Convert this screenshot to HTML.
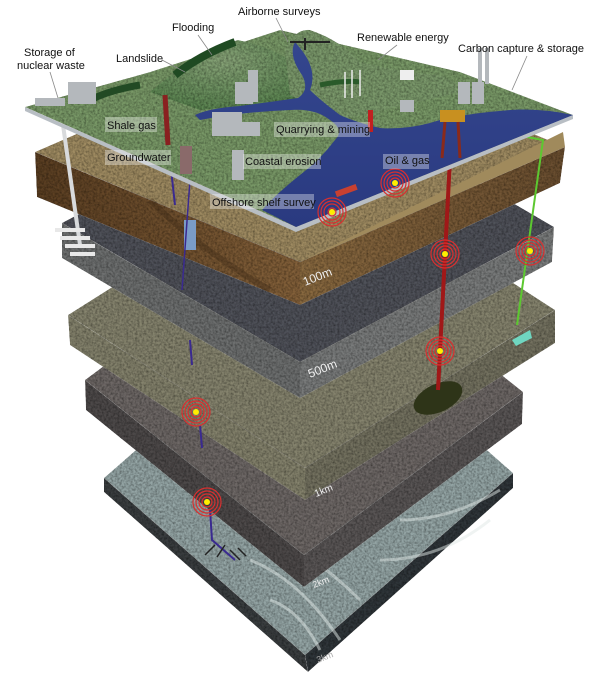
<!DOCTYPE html>
<html><head><meta charset="utf-8"><style>
html,body{margin:0;padding:0;background:#fff;}
svg{display:block;}
text{font-family:"Liberation Sans",sans-serif;}
</style></head><body>
<svg width="600" height="676" viewBox="0 0 600 676" xmlns="http://www.w3.org/2000/svg">
<defs>
<filter id="n" x="0" y="0" width="100%" height="100%" filterUnits="userSpaceOnUse">
<feTurbulence type="fractalNoise" baseFrequency="0.45" numOctaves="3" seed="3" result="t"/>
<feColorMatrix in="t" type="matrix" values="1.1 0 0 0 0.2  1.1 0 0 0 0.2  1.1 0 0 0 0.2  0 0 0 0 1" result="g"/>
<feBlend in="SourceGraphic" in2="g" mode="multiply" result="b"/>
<feComposite in="b" in2="SourceAlpha" operator="in"/>
</filter>
<linearGradient id="brL" x1="0" y1="0" x2="1" y2="0"><stop offset="0" stop-color="#5a3e22"/><stop offset="1" stop-color="#84613a"/></linearGradient>
<linearGradient id="brR" x1="0" y1="0" x2="1" y2="0"><stop offset="0" stop-color="#8a6a40"/><stop offset="1" stop-color="#6a4e30"/></linearGradient>
<linearGradient id="sea" x1="0" y1="0" x2="0" y2="1"><stop offset="0" stop-color="#34468e"/><stop offset="1" stop-color="#2a3a80"/></linearGradient>
<radialGradient id="mt" cx="0.5" cy="0.3" r="0.7"><stop offset="0" stop-color="#88a478"/><stop offset="1" stop-color="#5a8450"/></radialGradient>
</defs>

<g filter="url(#n)">
<polygon points="104,478 312,296 513,473 305,655" fill="#95a6a6"/>
<polygon points="104,478 305,655 308,672 104,492" fill="#3a3e40"/>
<polygon points="305,655 513,473 513,488 308,672" fill="#30363a"/>
</g>
<path d="M230,520 Q300,540 360,600 M250,560 Q300,580 340,640 M400,520 Q450,520 500,490 M380,560 Q440,560 490,520 M270,600 Q300,610 320,650" stroke="#e0e8e6" stroke-width="3" fill="none" opacity="0.5"/>
<g filter="url(#n)">
<polygon points="85,380 304,217 523,392 304,555" fill="#6e6866"/>
<polygon points="85,380 304,555 304,587 86,410" fill="#4e4a4a"/>
<polygon points="304,555 523,392 522,424 304,587" fill="#5a5656"/>
</g>
<g filter="url(#n)">
<polygon points="68,315 318,157 555,310 305,468" fill="#86846e"/>
<polygon points="68,315 305,468 305,500 70,345" fill="#84826c"/>
<polygon points="305,468 555,310 555,343 305,500" fill="#747260"/>
</g>
<ellipse cx="438" cy="398" rx="26" ry="14" fill="#2e3418" transform="rotate(-25 438 398)"/>
<polygon points="512,340 530,330 532,338 516,346" fill="#6fd6c0"/>
<g filter="url(#n)">
<polygon points="62,223 316,88 554,227 300,362" fill="#50525a"/>
<polygon points="62,223 300,362 300,398 62,258" fill="#6e7070"/>
<polygon points="300,362 554,227 552,262 300,398" fill="#7a7c7c"/>
</g>
<g filter="url(#n)">
<polygon points="35,152 300,37 565,147 300,262" fill="#a08c62"/>
<polygon points="35,152 300,262 300,305 37,197" fill="url(#brL)"/>
<polygon points="300,262 565,147 560,183 300,305" fill="url(#brR)"/>
</g>
<polygon points="300,262 563,132 565,147" fill="#a08a5c"/>
<path d="M150,200 Q200,250 270,290" stroke="#3e2a16" stroke-width="6" fill="none" opacity="0.4"/>

<polyline points="452,120 438,390" stroke="#a01818" stroke-width="4" fill="none"/>
<polyline points="508,103 527,137 543,140 517,325" stroke="#5cc830" stroke-width="2" fill="none"/>
<line x1="170" y1="160" x2="175" y2="205" stroke="#3a2a90" stroke-width="2"/>
<line x1="190" y1="340" x2="192" y2="365" stroke="#3a2a90" stroke-width="2"/>
<line x1="200" y1="425" x2="202" y2="448" stroke="#3a2a90" stroke-width="2"/>
<polyline points="210,510 212,540 235,560" stroke="#3a2a90" stroke-width="2" fill="none"/>
<path d="M215,545 l-10,10 M225,545 l-8,12 M230,550 l10,10 M238,548 l8,8" stroke="#222" stroke-width="1.5"/>
<line x1="63" y1="125" x2="80" y2="245" stroke="#d8dadc" stroke-width="4"/>
<g fill="#e8e8e8"><rect x="55" y="228" width="30" height="4"/><rect x="60" y="236" width="30" height="4"/><rect x="65" y="244" width="30" height="4"/><rect x="70" y="252" width="25" height="4"/></g>
<rect x="184" y="220" width="12" height="30" fill="#7a9cc8"/>
<line x1="190" y1="180" x2="182" y2="290" stroke="#3a2a90" stroke-width="1.5"/>

<polygon points="25,107 296,227 573,115 573,119 296,232 25,111" fill="#b8bec4"/>
<g filter="url(#n)">
<polygon points="25,107 150,72 280,30 460,72 573,115 296,227" fill="#7a9a68"/>
<path d="M150,92 Q200,50 238,40 Q265,45 290,60 L300,100 L200,110 Z" fill="url(#mt)"/>
<path d="M285,50 Q295,28 310,30 Q340,40 360,62 Q400,72 440,75 L470,90 L340,120 L290,95 Z" fill="#7c9a6c"/>
</g>
<path d="M175,75 Q200,55 235,42" stroke="#1f4a22" stroke-width="8" fill="none"/>
<path d="M90,100 Q110,90 140,85" stroke="#224a24" stroke-width="7" fill="none"/>
<path d="M320,85 Q345,80 360,82" stroke="#2a5a2a" stroke-width="5" fill="none"/>
<path d="M295,42 Q288,55 302,75 Q310,90 298,98 Q270,102 240,106 Q210,108 195,115 L200,120 Q240,112 290,110 Q315,108 330,120 Q345,130 335,140 Q320,160 300,175 Q275,195 262,210 L296,227 L573,115 Q540,108 510,110 Q470,113 440,120 Q410,130 380,128 Q355,122 340,115 Q320,100 310,90 Q318,70 300,48 Z" fill="url(#sea)"/>
<g fill="#b4b8bc">
<rect x="68" y="82" width="28" height="22"/><rect x="35" y="98" width="30" height="8"/>
<rect x="248" y="70" width="10" height="32"/><rect x="235" y="82" width="18" height="22"/>
<rect x="212" y="112" width="30" height="24"/><rect x="242" y="122" width="18" height="14"/>
<rect x="232" y="150" width="12" height="30"/>
<rect x="400" y="100" width="14" height="12"/>
<rect x="458" y="82" width="12" height="22"/><rect x="472" y="82" width="12" height="22"/>
<rect x="478" y="48" width="4" height="36"/><rect x="485" y="48" width="4" height="36"/>
</g>
<rect x="400" y="70" width="14" height="10" fill="#eee"/>
<rect x="180" y="146" width="12" height="28" fill="#8a6a6a"/>
<line x1="165" y1="95" x2="168" y2="145" stroke="#8a2020" stroke-width="5"/>
<g stroke="#eee" stroke-width="1.5"><line x1="345" y1="72" x2="345" y2="98"/><line x1="352" y1="70" x2="352" y2="98"/><line x1="360" y1="70" x2="360" y2="96"/></g>
<rect x="368" y="110" width="5" height="22" fill="#c02020"/>
<rect x="440" y="110" width="25" height="12" fill="#c89020"/>
<g stroke="#8a2a1a" stroke-width="3"><line x1="445" y1="122" x2="442" y2="158"/><line x1="458" y1="122" x2="460" y2="158"/></g>
<rect x="335" y="188" width="22" height="6" fill="#c84030" transform="rotate(-20 345 190)"/>
<path d="M290,42 h40 M305,38 v12" stroke="#222" stroke-width="2"/>

<g fill="none" stroke="#d83030" stroke-width="1.2">
<g transform="translate(332,212)"><circle r="4"/><circle r="8"/><circle r="11"/><circle r="14"/></g>
<g transform="translate(395,183)"><circle r="5"/><circle r="8"/><circle r="11"/><circle r="14"/></g>
<g transform="translate(445,254)"><circle r="5"/><circle r="8"/><circle r="11"/><circle r="14"/></g>
<g transform="translate(530,251)"><circle r="5"/><circle r="8"/><circle r="11"/><circle r="14"/></g>
<g transform="translate(440,351)"><circle r="5"/><circle r="8"/><circle r="11"/><circle r="14"/></g>
<g transform="translate(196,412)"><circle r="5"/><circle r="8"/><circle r="11"/><circle r="14"/></g>
<g transform="translate(207,502)"><circle r="5"/><circle r="8"/><circle r="11"/><circle r="14"/></g>
</g>
<g fill="#ffee00"><circle cx="332" cy="212" r="3"/><circle cx="395" cy="183" r="3"/><circle cx="445" cy="254" r="3"/><circle cx="530" cy="251" r="3"/><circle cx="440" cy="351" r="3"/><circle cx="196" cy="412" r="3"/><circle cx="207" cy="502" r="3"/></g>

<g stroke="#888" stroke-width="0.8">
<line x1="50" y1="72" x2="58" y2="98"/><line x1="162" y1="60" x2="185" y2="72"/>
<line x1="198" y1="35" x2="212" y2="55"/><line x1="276" y1="18" x2="288" y2="42"/>
<line x1="397" y1="45" x2="378" y2="60"/><line x1="527" y1="56" x2="512" y2="90"/>
</g>
<g fill="#fff" fill-opacity="0.35">
<rect x="105" y="117" width="52" height="15"/><rect x="105" y="150" width="66" height="15"/>
<rect x="274" y="122" width="96" height="15"/><rect x="243" y="154" width="78" height="15"/>
<rect x="383" y="154" width="46" height="15"/><rect x="210" y="194" width="104" height="15"/>
</g>
<g font-size="11" fill="#111">
<text x="24" y="56">Storage of</text><text x="17" y="69">nuclear waste</text>
<text x="116" y="62">Landslide</text><text x="172" y="31">Flooding</text>
<text x="238" y="15">Airborne surveys</text><text x="357" y="41">Renewable energy</text>
<text x="458" y="52">Carbon capture &amp; storage</text>
<text x="107" y="129">Shale gas</text><text x="107" y="161">Groundwater</text>
<text x="276" y="133">Quarrying &amp; mining</text><text x="245" y="165">Coastal erosion</text>
<text x="385" y="164">Oil &amp; gas</text><text x="212" y="206">Offshore shelf survey</text>
</g>
<g font-size="12" fill="#eee">
<text x="0" y="0" transform="translate(305,286) rotate(-22)">100m</text>
<text x="0" y="0" transform="translate(310,378) rotate(-22)">500m</text>
<text x="0" y="0" transform="translate(316,497) rotate(-22)" font-size="10">1km</text>
<text x="0" y="0" transform="translate(314,588) rotate(-22)" font-size="9">2km</text>
<text x="0" y="0" transform="translate(318,663) rotate(-22)" font-size="9" fill="#aaa">3km</text>
</g>
</svg>
</body></html>
